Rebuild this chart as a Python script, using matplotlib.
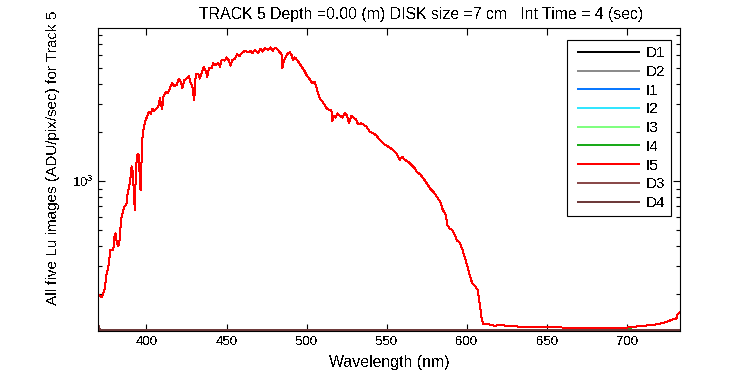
import matplotlib
matplotlib.use("Agg")
import matplotlib.pyplot as plt
from matplotlib.lines import Line2D
from matplotlib.legend_handler import HandlerLine2D
from matplotlib.ticker import LogLocator, NullFormatter, FixedLocator

plt.rcParams['font.family'] = ['Liberation Sans', 'DejaVu Sans']
plt.rcParams['text.antialiased'] = False
plt.rcParams['lines.antialiased'] = False

# Wavelengths (nm) and Lu signal (I5 on top, I1-I4 nearly identical)
wavelength = [370.4, 372, 373, 374, 375, 376.2, 377, 377.5, 379.3, 380, 380.8, 381.4, 382.4, 383.5,
              384, 385, 386.2, 387.6, 388.2, 389.3, 390.3, 390.7, 391.6, 392.2, 392.8, 393.4, 394.5,
              395.3, 396, 396.6, 397, 397.6, 398.6, 399.5, 400.7, 401.5, 402.8, 403.6, 404.9, 406.3,
              407.4, 408.4, 409, 409.8, 410.5, 412, 413.2, 414.6, 416, 417.3, 418.8, 420.2, 421.5,
              422.3, 423.6, 425, 426.5, 427.7, 428.5, 429.8, 430.8, 432.3, 433.3, 434.4, 435.8, 437.1,
              437.9, 439.1, 440.6, 441.6, 443.3, 444.8, 445.8, 446.9, 449, 450, 451.6, 452.5, 453.5,
              455.2, 456.6, 457.8, 459.3, 461.4, 463.5, 465, 466.2, 467.6, 469.7, 471.2, 472.4, 473.9,
              475.9, 477.4, 478.7, 480.1, 481.5, 482.8, 484.3, 484.9, 485.7, 487, 487.8, 489.5, 490.5,
              491.5, 492.6, 494, 495.7, 497.4, 498.8, 499.9, 501.5, 503.6, 505, 506.5, 508.2, 509.8,
              511.3, 512.7, 514.4, 515.4, 516.1, 517.1, 518.1, 519.2, 520.6, 522.3, 523.7, 525.2,
              526.4, 527.9, 529.3, 531, 532, 534.2, 535.6, 537.3, 539.3, 541.4, 543.5, 545.6, 547.6,
              549.7, 551.8, 553.9, 556, 558, 559.7, 561.2, 563.2, 565.3, 567.4, 568.8, 570.8, 572.9,
              575, 577.1, 579.2, 581.3, 583.4, 585, 586.5, 587.9, 589.2, 590.7, 592.1, 593.8, 595.5,
              597, 598.6, 600.1, 601.8, 603.3, 605.4, 606.8, 607.7, 608.5, 609.1, 610, 611.6, 613.7,
              615.8, 617.9, 620, 625, 630, 640, 650, 660, 670, 680, 685, 690, 695, 700, 704, 706.4,
              710, 713.9, 717, 720.1, 724.3, 728.2, 730.7, 731.5, 732.7]
lu_i5 = [198, 192, 203, 218, 263, 296, 341, 379, 375, 453, 476, 422, 397, 443,
         575, 632, 694, 728, 831, 945, 1089, 1238, 1116, 800, 662, 1225, 1482,
         1447, 901, 880, 1482, 1923, 2215, 2380, 2555, 2676, 2616, 2808, 2716, 2808,
         2874, 3284, 3017, 2808, 3315, 3558, 3510, 3738, 4050, 3860, 3915, 4305, 4108,
         3738, 4205, 4305, 4450, 4011, 3915, 3162, 4623, 4623, 4300, 4640, 5100, 4755,
         4426, 4980, 4980, 5350, 5220, 5350, 5100, 5610, 5560, 5810, 5530, 5170, 5610,
         5690, 6080, 5890, 6170, 6380, 6260, 6380, 6170, 6480, 6170, 6570, 6310, 6630,
         6480, 6700, 6380, 6630, 6570, 6310, 6080, 5000, 5480, 5890, 6080, 6260, 6030,
         5610, 5810, 5610, 5300, 5000, 4755, 4530, 4320, 4020, 4124, 3660, 3250, 3100,
         2950, 2790, 2755, 2755, 2356, 2540, 2470, 2627, 2540, 2470, 2627, 2540,
         2280, 2540, 2470, 2390, 2250, 2280, 2227, 2175, 2025, 1980, 1915, 1800, 1715,
         1660, 1615, 1560, 1488, 1354, 1420, 1354, 1323, 1260, 1203, 1137, 1105, 1040,
         968, 901, 859, 800, 745, 662, 632, 535, 510, 503, 476, 432, 416,
         384, 341, 303, 263, 234, 223, 213, 184, 160, 145, 132, 131, 131,
         129, 128, 130, 128, 127, 126, 126, 125, 125, 125, 125, 125, 125, 125, 126, 127,
         128, 129, 130, 132, 135, 140, 142, 151, 155]
# I1-I4 sit a little below I5 between 680 and 700 nm
tail_others = {680: 123, 685: 122, 690: 123, 695: 122, 700: 123}
lu_others = [tail_others.get(w, v) for w, v in zip(wavelength, lu_i5)]

# Dark images
dark_wl = [370, 371, 372, 380, 395, 410, 425, 440, 455, 470, 485, 500, 515, 530, 545,
           560, 575, 590, 605, 620, 635, 650, 665, 680, 695, 710, 725, 733]
d1 = [122, 120.6, 120.4, 120.5, 120.3, 120.6, 120.4, 120.5, 120.3, 120.6, 120.4, 120.5, 120.3, 120.6,
      120.4, 120.5, 120.3, 120.6, 120.4, 120.5, 120.3, 120.6, 120.4, 120.5, 120.2, 120.4, 120.3, 120.6]
d2 = [123, 120.8, 120.6, 120.7, 120.5, 120.8, 120.6, 120.7, 120.5, 120.8, 120.6, 120.7, 120.5, 120.8,
      120.6, 120.7, 120.5, 120.8, 120.6, 120.7, 120.5, 120.8, 120.6, 120.7, 120.5, 120.6, 120.4, 120.8]
d3 = [129, 121.5, 121, 121.2, 120.8, 121.3, 120.9, 121.2, 120.8, 121.3, 120.9, 121.2, 120.8, 121.3,
      120.9, 121.2, 120.8, 121.3, 120.9, 121.2, 120.8, 121.3, 120.9, 121.2, 120.8, 121, 120.9, 121.3]
d4 = [128, 121.2, 120.8, 121, 120.6, 121.1, 120.7, 121, 120.6, 121.1, 120.7, 121, 120.6, 121.1,
      120.7, 121, 120.6, 121.1, 120.7, 121, 120.6, 121.1, 120.7, 121, 120.6, 120.8, 120.7, 121.1]

series = [
    ('D1', dark_wl, d1, '#000000'),
    ('D2', dark_wl, d2, '#8c8c8c'),
    ('I1', wavelength, lu_others, '#0a78ff'),
    ('I2', wavelength, lu_others, '#33e6ff'),
    ('I3', wavelength, lu_others, '#80ff80'),
    ('I4', wavelength, lu_others, '#1aaa1a'),
    ('I5', wavelength, lu_i5, '#ff0000'),
    ('D3', dark_wl, d3, '#8a4a4a'),
    ('D4', dark_wl, d4, '#6e3a3a'),
]

fig = plt.figure(figsize=(7.5, 3.75), dpi=100)
ax = fig.add_axes([98.4 / 750, 1 - 331 / 375, (680 - 98.4) / 750, (331 - 28.3) / 375])

for name, x, y, c in series:
    ax.plot(x, y, color=c, linewidth=0.72, label=name)

ax.set_yscale('log')
ax.set_xlim(370, 733)
ax.set_ylim(119, 8790)
ax.xaxis.set_major_locator(FixedLocator([400, 450, 500, 550, 600, 650, 700]))
ax.yaxis.set_minor_locator(LogLocator(base=10, subs=range(2, 10)))
ax.yaxis.set_minor_formatter(NullFormatter())
ax.tick_params(which='both', direction='in', top=True, right=True, labelsize=9.5)
ax.tick_params(which='major', length=5, width=0.8)
ax.tick_params(which='minor', length=3, width=0.8)
for s in ax.spines.values():
    s.set_linewidth(0.8)

ax.set_xlabel('Wavelength (nm)', fontsize=11.4, labelpad=5)
fig.text(53 / 750, 1 - 305 / 375, 'All five Lu images (ADU/pix/sec) for Track 5',
         rotation=90, ha='center', va='bottom', fontsize=11)
fig.text(421.5 / 750, 1 - 19 / 375,
         'TRACK 5 Depth =0.00 (m) DISK size =7 cm   Int Time = 4 (sec)',
         ha='center', va='baseline', fontsize=11.4)

leg = ax.legend(loc='upper right', bbox_to_anchor=(0.9845, 0.9613), borderaxespad=0,
                fancybox=False, framealpha=1, edgecolor='black', fontsize=11,
                handlelength=4.31, handletextpad=0.4, labelspacing=0.31, borderpad=0.4,
                handler_map={Line2D: HandlerLine2D(xpad=0.33)})
leg.get_frame().set_linewidth(0.8)
for line in leg.get_lines():
    line.set_linewidth(1.4)

fig.savefig('out.png', dpi=100)
